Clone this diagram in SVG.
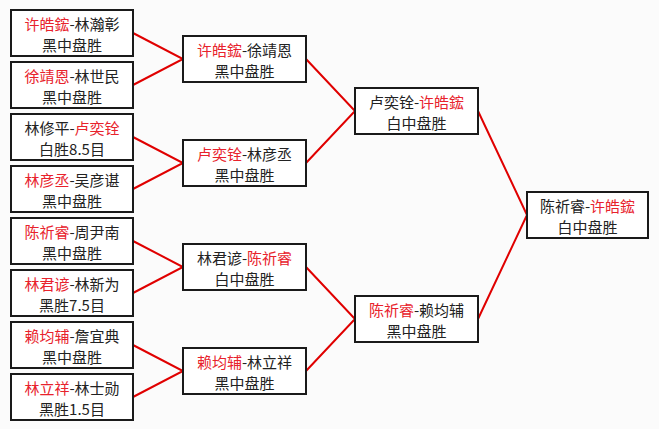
<svg xmlns="http://www.w3.org/2000/svg" width="659" height="429" viewBox="0 0 659 429">
<style>
.bg{fill:#fbfbfb}
.box{fill:#ffffff;stroke:#1a1a1a;stroke-width:2}
.t{font-family:"Noto Sans CJK SC","Noto Sans CJK TC",sans-serif;font-size:15px;fill:#222;text-anchor:middle}
.r{fill:#e8222c}
.ln{stroke:#e00000;stroke-width:2;fill:none}
</style>
<rect class="bg" x="0" y="0" width="659" height="429"/>
<g id="connectors">
<polyline class="ln" points="133,33 183,59 133,85"/>
<polyline class="ln" points="133,137 183,163 133,189"/>
<polyline class="ln" points="133,241 183,267 133,293"/>
<polyline class="ln" points="133,345 183,371 133,397"/>
<polyline class="ln" points="306,59 355,111 306,163"/>
<polyline class="ln" points="306,267 355,319 306,371"/>
<polyline class="ln" points="478,111 527,215 478,319"/>
</g>
<g id="n1"><rect class="box" x="11" y="10" width="122" height="46"/><text class="t" x="72" y="30"><tspan class="r">许皓鋐</tspan>-林瀚彰</text><text class="t" x="72" y="51">黑中盘胜</text></g>
<g id="n2"><rect class="box" x="11" y="62" width="122" height="46"/><text class="t" x="72" y="82"><tspan class="r">徐靖恩</tspan>-林世民</text><text class="t" x="72" y="103">黑中盘胜</text></g>
<g id="n3"><rect class="box" x="11" y="114" width="122" height="46"/><text class="t" x="72" y="134">林修平-<tspan class="r">卢奕铨</tspan></text><text class="t" x="72" y="155">白胜8.5目</text></g>
<g id="n4"><rect class="box" x="11" y="166" width="122" height="46"/><text class="t" x="72" y="186"><tspan class="r">林彦丞</tspan>-吴彦谌</text><text class="t" x="72" y="207">黑中盘胜</text></g>
<g id="n5"><rect class="box" x="11" y="218" width="122" height="46"/><text class="t" x="72" y="238"><tspan class="r">陈祈睿</tspan>-周尹南</text><text class="t" x="72" y="259">黑中盘胜</text></g>
<g id="n6"><rect class="box" x="11" y="270" width="122" height="46"/><text class="t" x="72" y="290"><tspan class="r">林君谚</tspan>-林新为</text><text class="t" x="72" y="311">黑胜7.5目</text></g>
<g id="n7"><rect class="box" x="11" y="322" width="122" height="46"/><text class="t" x="72" y="342"><tspan class="r">赖均辅</tspan>-詹宜典</text><text class="t" x="72" y="363">黑中盘胜</text></g>
<g id="n8"><rect class="box" x="11" y="374" width="122" height="46"/><text class="t" x="72" y="394"><tspan class="r">林立祥</tspan>-林士勋</text><text class="t" x="72" y="415">黑胜1.5目</text></g>
<g id="m1"><rect class="box" x="183" y="36" width="123" height="46"/><text class="t" x="244.5" y="56"><tspan class="r">许皓鋐</tspan>-徐靖恩</text><text class="t" x="244.5" y="77">黑中盘胜</text></g>
<g id="m2"><rect class="box" x="183" y="140" width="123" height="46"/><text class="t" x="244.5" y="160"><tspan class="r">卢奕铨</tspan>-林彦丞</text><text class="t" x="244.5" y="181">黑中盘胜</text></g>
<g id="m3"><rect class="box" x="183" y="244" width="123" height="46"/><text class="t" x="244.5" y="264">林君谚-<tspan class="r">陈祈睿</tspan></text><text class="t" x="244.5" y="285">白中盘胜</text></g>
<g id="m4"><rect class="box" x="183" y="348" width="123" height="46"/><text class="t" x="244.5" y="368"><tspan class="r">赖均辅</tspan>-林立祥</text><text class="t" x="244.5" y="389">黑中盘胜</text></g>
<g id="s1"><rect class="box" x="355" y="88" width="123" height="46"/><text class="t" x="416.5" y="108">卢奕铨-<tspan class="r">许皓鋐</tspan></text><text class="t" x="416.5" y="129">白中盘胜</text></g>
<g id="s2"><rect class="box" x="355" y="296" width="123" height="46"/><text class="t" x="416.5" y="316"><tspan class="r">陈祈睿</tspan>-赖均辅</text><text class="t" x="416.5" y="337">黑中盘胜</text></g>
<g id="f"><rect class="box" x="527" y="192" width="121" height="46"/><text class="t" x="587.5" y="212">陈祈睿-<tspan class="r">许皓鋐</tspan></text><text class="t" x="587.5" y="233">白中盘胜</text></g>
</svg>
